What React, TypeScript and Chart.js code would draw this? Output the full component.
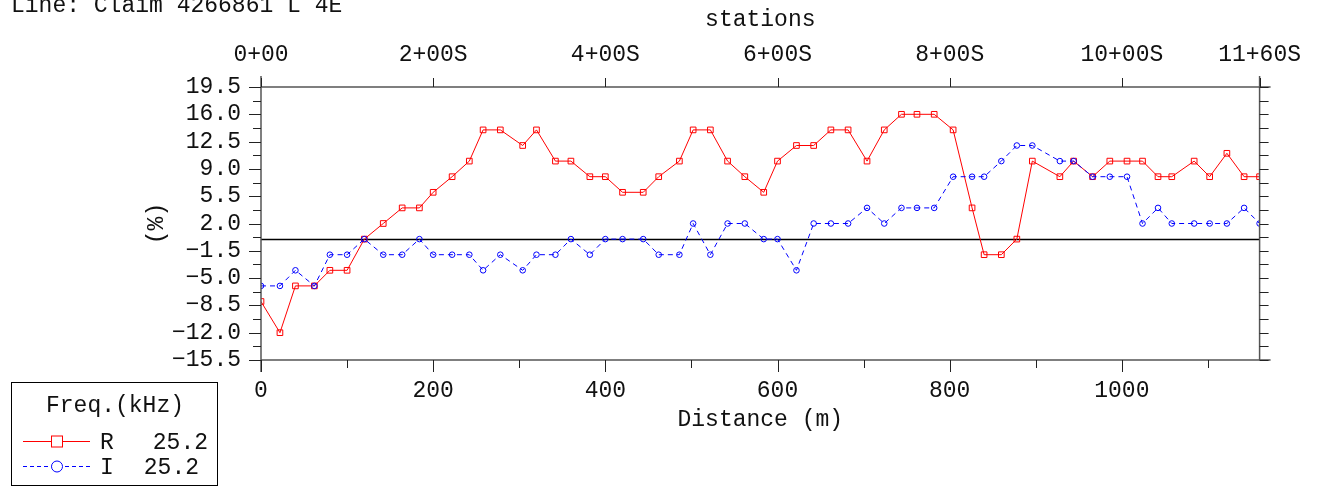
import { useEffect, useRef } from 'react';
import { Chart, registerables } from 'chart.js';

Chart.register(...registerables);

const distances = [0, 22, 40, 62, 80, 100, 120, 142, 164, 184, 200, 222, 242, 258, 278, 304, 320, 342, 360, 382, 400, 420, 444, 462, 486, 502, 522, 542, 562, 584, 600, 622, 642, 662, 682, 704, 724, 744, 762, 782, 804, 826, 840, 860, 878, 896, 928, 944, 966, 986, 1006, 1024, 1042, 1058, 1084, 1102, 1122, 1142, 1160];
const realValues = [-8, -12, -6, -6, -4, -4, 0, 2, 4, 4, 6, 8, 10, 14, 14, 12, 14, 10, 10, 8, 8, 6, 6, 8, 10, 14, 14, 10, 8, 6, 10, 12, 12, 14, 14, 10, 14, 16, 16, 16, 14, 4, -2, -2, 0, 10, 8, 10, 8, 10, 10, 10, 8, 8, 10, 8, 11, 8, 8];
const imagValues = [-6, -6, -4, -6, -2, -2, 0, -2, -2, 0, -2, -2, -2, -4, -2, -4, -2, -2, 0, -2, 0, 0, 0, -2, -2, 2, -2, 2, 2, 0, 0, -4, 2, 2, 2, 4, 2, 4, 4, 4, 8, 8, 8, 10, 12, 12, 10, 10, 8, 8, 8, 2, 4, 2, 2, 2, 2, 4, 2];

const yTickValues = [-15.5, -12.0, -8.5, -5.0, -1.5, 2.0, 5.5, 9.0, 12.5, 16.0, 19.5];
const yMinorCount = 20; // minor ticks every 1.75 between -15.5 and 19.5
const xTickValues = [0, 200, 400, 600, 800, 1000];
const xMinorValues = [0, 100, 200, 300, 400, 500, 600, 700, 800, 900, 1000, 1100];
const stationValues = [0, 200, 400, 600, 800, 1000, 1160];
const stationLabels = ['0+00', '2+00S', '4+00S', '6+00S', '8+00S', '10+00S', '11+60S'];
const headerText = 'Line: Claim 4266861 L 4E';
const legendTitle = 'Freq.(kHz)';
const legendNames = ['R', 'I'];
const legendFreqs = ['25.2', '25.2'];

const FONT = '"Liberation Mono", "DejaVu Sans Mono", monospace';
const TEXT = '#111';
const RED = '#ff0000';
const BLUE = '#0000ff';

const fmtY = (v: number) => (v < 0 ? '\u2212' : '') + Math.abs(v).toFixed(1);

const framePlugin = {
  id: 'frame',
  beforeDatasetsDraw(chart: any) {
    const { ctx, chartArea, scales } = chart;
    const y0 = Math.round(scales.y.getPixelForValue(0)) + 0.5;
    ctx.save();
    ctx.strokeStyle = '#000';
    ctx.lineWidth = 1.5;
    ctx.beginPath();
    ctx.moveTo(chartArea.left, y0);
    ctx.lineTo(chartArea.right, y0);
    ctx.stroke();
    ctx.restore();
  },
  afterDraw(chart: any) {
    const { ctx, chartArea, scales } = chart;
    const { left, right, top, bottom } = chartArea;
    const xs = scales.x;
    const ys = scales.y;
    ctx.save();
    // frame
    ctx.strokeStyle = '#555';
    ctx.lineWidth = 1.5;
    ctx.beginPath();
    ctx.moveTo(left, top); ctx.lineTo(right + 11, top);
    ctx.moveTo(left, bottom); ctx.lineTo(right + 11, bottom);
    ctx.moveTo(left, top - 11); ctx.lineTo(left, bottom + 12);
    ctx.moveTo(right, top - 11); ctx.lineTo(right, bottom);
    ctx.stroke();
    // ticks
    ctx.strokeStyle = '#222';
    ctx.lineWidth = 1;
    ctx.beginPath();
    xMinorValues.forEach((v) => {
      const px = Math.round(xs.getPixelForValue(v)) + 0.5;
      const len = xTickValues.includes(v) ? 12 : 8;
      ctx.moveTo(px, bottom); ctx.lineTo(px, bottom + len);
    });
    stationValues.forEach((v) => {
      const px = Math.round(xs.getPixelForValue(v)) + 0.5;
      ctx.moveTo(px, top); ctx.lineTo(px, top - 9);
    });
    const yMin = yTickValues[0];
    const yMax = yTickValues[yTickValues.length - 1];
    for (let i = 0; i <= yMinorCount; i++) {
      const v = yMin + ((yMax - yMin) * i) / yMinorCount;
      const py = Math.round(ys.getPixelForValue(v)) + 0.5;
      const len = i % 2 === 0 ? 12 : 8;
      ctx.moveTo(left - len, py); ctx.lineTo(left, py);
      ctx.moveTo(right, py); ctx.lineTo(right + 9, py);
    }
    ctx.stroke();

    // header
    ctx.fillStyle = TEXT;
    ctx.font = `23px ${FONT}`;
    ctx.textAlign = 'left';
    ctx.textBaseline = 'alphabetic';
    ctx.fillText(headerText, 11, 12);

    // legend
    ctx.strokeStyle = '#000';
    ctx.lineWidth = 1;
    ctx.strokeRect(11.5, 382.5, 206, 103);
    ctx.textAlign = 'center';
    ctx.fillText(legendTitle, 115, 412);
    // R row
    ctx.strokeStyle = RED;
    ctx.beginPath();
    ctx.moveTo(23, 441.5); ctx.lineTo(90, 441.5);
    ctx.stroke();
    ctx.fillStyle = '#fff';
    ctx.fillRect(51.5, 436, 11, 11);
    ctx.strokeRect(51.5, 436, 11, 11);
    // I row
    ctx.strokeStyle = BLUE;
    ctx.setLineDash([4, 3]);
    ctx.beginPath();
    ctx.moveTo(23, 466.5); ctx.lineTo(90, 466.5);
    ctx.stroke();
    ctx.setLineDash([]);
    ctx.beginPath();
    ctx.arc(57, 466.5, 5.5, 0, Math.PI * 2);
    ctx.fillStyle = '#fff';
    ctx.fill();
    ctx.stroke();
    ctx.fillStyle = TEXT;
    ctx.textAlign = 'left';
    ctx.fillText(legendNames[0], 100, 449);
    ctx.fillText(legendNames[1], 100, 474);
    ctx.textAlign = 'right';
    ctx.fillText(legendFreqs[0], 208, 449);
    ctx.fillText(legendFreqs[1], 199, 474);
    ctx.restore();
  },
};

export default function App() {
  const ref = useRef<HTMLCanvasElement>(null);
  useEffect(() => {
    const font = { family: FONT, size: 23 };
    const chart = new Chart(ref.current as HTMLCanvasElement, {
      type: 'line',
      data: {
        datasets: [
          {
            label: 'I',
            data: distances.map((d, i) => ({ x: d, y: imagValues[i] })),
            borderColor: BLUE,
            borderWidth: 1,
            borderDash: [5, 4],
            pointStyle: 'circle',
            pointRadius: 2.8,
            pointBorderColor: BLUE,
            pointBackgroundColor: 'rgba(255,255,255,0)',
            pointBorderWidth: 1,
            tension: 0,
            order: 0,
            xAxisID: 'x',
            yAxisID: 'y',
          },
          {
            label: 'R',
            data: distances.map((d, i) => ({ x: d, y: realValues[i] })),
            borderColor: RED,
            borderWidth: 1,
            pointStyle: 'rect',
            pointRadius: 4,
            pointBorderColor: RED,
            pointBackgroundColor: 'rgba(255,255,255,0)',
            pointBorderWidth: 1,
            tension: 0,
            order: 1,
            xAxisID: 'x',
            yAxisID: 'y',
          },
        ],
      },
      options: {
        responsive: false,
        animation: false,
        events: [],
        layout: { padding: 0 },
        plugins: { legend: { display: false }, tooltip: { enabled: false } },
        scales: {
          x: {
            type: 'linear',
            position: 'bottom',
            min: 0,
            max: 1160,
            afterFit: (s: any) => { s.height = 127; },
            afterBuildTicks: (s: any) => { s.ticks = xTickValues.map((v) => ({ value: v })); },
            grid: { display: false, drawTicks: false },
            border: { display: false },
            ticks: { padding: 17, color: TEXT, font, maxRotation: 0, autoSkip: false, callback: (v: any) => String(v) },
            title: { display: true, text: 'Distance (m)', color: TEXT, font, padding: 53 },
          },
          x2: {
            type: 'linear',
            position: 'top',
            min: 0,
            max: 1160,
            afterFit: (s: any) => { s.height = 87; },
            afterBuildTicks: (s: any) => { s.ticks = stationValues.map((v) => ({ value: v })); },
            grid: { display: false, drawTicks: false },
            border: { display: false },
            ticks: {
              padding: 18, color: TEXT, font, maxRotation: 0, autoSkip: false,
              callback: (v: any) => stationLabels[stationValues.indexOf(Number(v))] ?? '',
            },
            title: { display: true, text: 'stations', color: TEXT, font, padding: 6 },
          },
          y: {
            type: 'linear',
            position: 'left',
            min: yTickValues[0],
            max: yTickValues[yTickValues.length - 1],
            afterFit: (s: any) => { s.width = 261; },
            afterBuildTicks: (s: any) => { s.ticks = yTickValues.map((v) => ({ value: v })); },
            grid: { display: false, drawTicks: false },
            border: { display: false },
            ticks: { padding: 20, color: TEXT, font, autoSkip: false, callback: (v: any) => fmtY(Number(v)) },
            title: { display: true, text: '(%)', color: TEXT, font, padding: 143 },
          },
          y2: {
            type: 'linear',
            position: 'right',
            min: yTickValues[0],
            max: yTickValues[yTickValues.length - 1],
            afterFit: (s: any) => { s.width = 57; },
            grid: { display: false, drawTicks: false },
            border: { display: false },
            ticks: { display: false },
          },
        },
      },
      plugins: [framePlugin],
    } as any);
    return () => chart.destroy();
  }, []);
  return (
    <div style={{ position: 'fixed', left: 0, top: 0, width: 1319, height: 487, background: '#fff' }}>
      <canvas ref={ref} width={1319} height={487} style={{ display: 'block' }} />
    </div>
  );
}
